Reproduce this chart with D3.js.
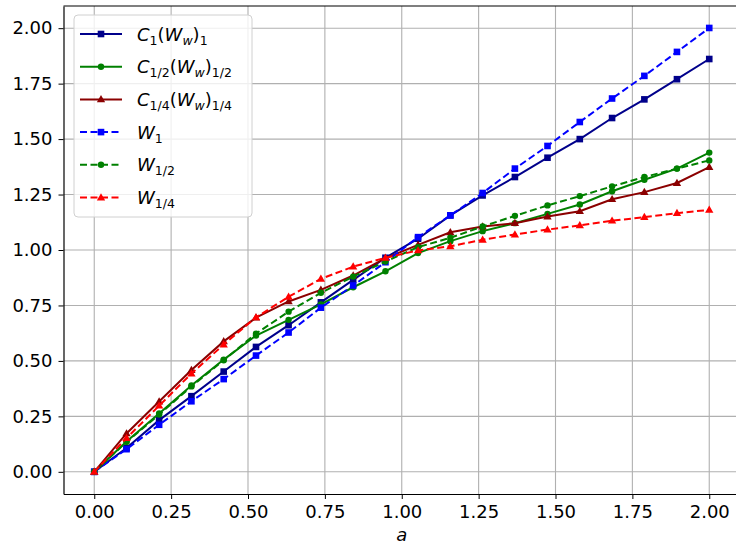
<!DOCTYPE html>
<html>
<head>
<meta charset="utf-8">
<script src="https://cdn.jsdelivr.net/npm/d3@7"></script>
<style>
  body { margin: 0; background: #fff; }
  svg text { font-family: "DejaVu Sans", sans-serif; }
</style>
</head>
<body>
<main></main>
<script>
var width = 736;
var height = 546;

// a values (20 points from 0 to 2)
var aVals = [0, 0.105, 0.211, 0.316, 0.421, 0.526, 0.632, 0.737, 0.842, 0.947,
  1.053, 1.158, 1.263, 1.368, 1.474, 1.579, 1.684, 1.789, 1.895, 2.0];

var c1 = [0, 0.107, 0.233, 0.341, 0.452, 0.563, 0.661, 0.764, 0.865, 0.965,
  1.051, 1.156, 1.246, 1.329, 1.416, 1.500, 1.595, 1.679, 1.770, 1.861];
var cHalf = [0, 0.137, 0.263, 0.389, 0.506, 0.614, 0.685, 0.755, 0.832, 0.904,
  0.986, 1.040, 1.085, 1.121, 1.163, 1.205, 1.265, 1.317, 1.367, 1.439];
var cQuarter = [0, 0.173, 0.317, 0.459, 0.588, 0.695, 0.768, 0.820, 0.885, 0.963,
  1.023, 1.080, 1.106, 1.121, 1.151, 1.175, 1.229, 1.261, 1.302, 1.374];
var w1 = [0, 0.102, 0.212, 0.318, 0.418, 0.524, 0.628, 0.740, 0.840, 0.945,
  1.058, 1.156, 1.257, 1.367, 1.469, 1.577, 1.683, 1.785, 1.893, 2.001];
var wHalf = [0, 0.135, 0.258, 0.385, 0.503, 0.623, 0.722, 0.807, 0.880, 0.948,
  1.013, 1.055, 1.106, 1.154, 1.201, 1.243, 1.287, 1.329, 1.367, 1.404];
var wQuarter = [0, 0.152, 0.298, 0.443, 0.574, 0.696, 0.789, 0.870, 0.925, 0.965,
  0.998, 1.017, 1.046, 1.070, 1.092, 1.111, 1.132, 1.148, 1.166, 1.181];

var tickVals = [0, 0.25, 0.5, 0.75, 1.0, 1.25, 1.5, 1.75, 2.0];

// label parts: [text, style] style: i = italic, s = subscript, si = italic subscript
var series = [
  { vals: c1, color: '#00008b', dash: null, marker: 'square',
    label: [['C', 'i'], ['1', 's'], ['(', ''], ['W', 'i'], ['w', 'si'], [')', ''], ['1', 's']] },
  { vals: cHalf, color: '#008000', dash: null, marker: 'circle',
    label: [['C', 'i'], ['1/2', 's'], ['(', ''], ['W', 'i'], ['w', 'si'], [')', ''], ['1/2', 's']] },
  { vals: cQuarter, color: '#8b0000', dash: null, marker: 'triangle',
    label: [['C', 'i'], ['1/4', 's'], ['(', ''], ['W', 'i'], ['w', 'si'], [')', ''], ['1/4', 's']] },
  { vals: w1, color: '#0000ff', dash: '7,3.5', marker: 'square',
    label: [['W', 'i'], ['1', 's']] },
  { vals: wHalf, color: '#008000', dash: '7,3.5', marker: 'circle',
    label: [['W', 'i'], ['1/2', 's']] },
  { vals: wQuarter, color: '#ff0000', dash: '7,3.5', marker: 'triangle',
    label: [['W', 'i'], ['1/4', 's']] }
];

var margin = { left: 63.5, top: 6, right: -4, bottom: 52 };
var plotW = width - margin.left - margin.right;
var plotH = height - margin.top - margin.bottom;

var x = d3.scaleLinear().domain([-0.1, 2.1]).range([0, plotW]);
var y = d3.scaleLinear().domain([-0.1, 2.1]).range([plotH, 0]);

var svg = d3.select('main').append('svg')
  .attr('width', width)
  .attr('height', height);

var g = svg.append('g')
  .attr('transform', 'translate(' + margin.left + ',' + margin.top + ')');

// grid
g.append('g').selectAll('line').data(tickVals).enter().append('line')
  .attr('x1', function(d) { return x(d); })
  .attr('x2', function(d) { return x(d); })
  .attr('y1', 0).attr('y2', plotH)
  .attr('stroke', '#b0b0b0').attr('stroke-width', 1.1);
g.append('g').selectAll('line').data(tickVals).enter().append('line')
  .attr('y1', function(d) { return y(d); })
  .attr('y2', function(d) { return y(d); })
  .attr('x1', 0).attr('x2', plotW)
  .attr('stroke', '#b0b0b0').attr('stroke-width', 1.1);

// axes
var xAxis = g.append('g')
  .attr('transform', 'translate(0,' + plotH + ')')
  .call(d3.axisBottom(x).tickValues(tickVals).tickFormat(d3.format('.2f'))
    .tickSize(5).tickPadding(6).tickSizeOuter(0));
var yAxis = g.append('g')
  .call(d3.axisLeft(y).tickValues(tickVals).tickFormat(d3.format('.2f'))
    .tickSize(5).tickPadding(6).tickSizeOuter(0));
[xAxis, yAxis].forEach(function(ax) {
  ax.selectAll('text').attr('font-size', 18).attr('fill', '#000')
    .attr('font-family', '"DejaVu Sans", sans-serif');
  ax.selectAll('line').attr('stroke', '#000').attr('stroke-width', 1);
  ax.select('.domain').attr('stroke', '#000').attr('stroke-width', 1.2);
});

// top and right spines
g.append('line').attr('x1', 0).attr('x2', plotW).attr('y1', 0).attr('y2', 0)
  .attr('stroke', '#000').attr('stroke-width', 1.2);
g.append('line').attr('x1', plotW).attr('x2', plotW).attr('y1', 0).attr('y2', plotH)
  .attr('stroke', '#000').attr('stroke-width', 1.2);

// x label
g.append('text')
  .attr('x', x(1)).attr('y', plotH + 47)
  .attr('text-anchor', 'middle')
  .attr('font-size', 18).attr('font-style', 'italic')
  .text('a');

var line = d3.line()
  .x(function(d, i) { return x(aVals[i]); })
  .y(function(d) { return y(d); });

function drawMarker(sel, type, color, cx, cy) {
  if (type === 'square') {
    sel.append('rect')
      .attr('x', cx - 3.3).attr('y', cy - 3.3)
      .attr('width', 6.6).attr('height', 6.6)
      .attr('fill', color);
  } else if (type === 'circle') {
    sel.append('circle')
      .attr('cx', cx).attr('cy', cy).attr('r', 3.2)
      .attr('fill', color);
  } else {
    sel.append('path')
      .attr('d', d3.symbol().type(d3.symbolTriangle).size(30)())
      .attr('transform', 'translate(' + cx + ',' + (cy + 0.5) + ')')
      .attr('fill', color);
  }
}

series.forEach(function(s) {
  var sg = g.append('g');
  sg.append('path')
    .datum(s.vals)
    .attr('d', line)
    .attr('fill', 'none')
    .attr('stroke', s.color)
    .attr('stroke-width', 2)
    .attr('stroke-dasharray', s.dash);
  s.vals.forEach(function(v, i) {
    drawMarker(sg, s.marker, s.color, x(aVals[i]), y(v));
  });
});

// legend
var legend = svg.append('g').attr('transform', 'translate(74,15)');
legend.append('rect')
  .attr('width', 178).attr('height', 202)
  .attr('rx', 4)
  .attr('fill', 'rgba(255,255,255,0.8)')
  .attr('stroke', '#d0d0d0');

series.forEach(function(s, i) {
  var ly = 19 + i * 32.7;
  var row = legend.append('g');
  row.append('line')
    .attr('x1', 6).attr('x2', 48).attr('y1', ly).attr('y2', ly)
    .attr('stroke', s.color).attr('stroke-width', 2)
    .attr('stroke-dasharray', s.dash);
  drawMarker(row, s.marker, s.color, 27, ly);
  var t = row.append('text')
    .attr('x', 63).attr('y', ly + 6.5)
    .attr('font-size', 18);
  s.label.forEach(function(p) {
    var ts = t.append('tspan').text(p[0]);
    if (p[1] === 'i' || p[1] === 'si') ts.attr('font-style', 'italic');
    if (p[1] === 's' || p[1] === 'si') {
      ts.attr('font-size', 12.5).attr('dy', 4);
    }
  });
  // reset baseline after subscripts by using separate tspans with dy
  var prevSub = false;
  t.selectAll('tspan').each(function(d, k) {
    var p = s.label[k];
    var isSub = (p[1] === 's' || p[1] === 'si');
    var el = d3.select(this);
    if (isSub && !prevSub) el.attr('dy', 4);
    else if (!isSub && prevSub) el.attr('dy', -4);
    else el.attr('dy', 0);
    prevSub = isSub;
  });
});
</script>
</body>
</html>
